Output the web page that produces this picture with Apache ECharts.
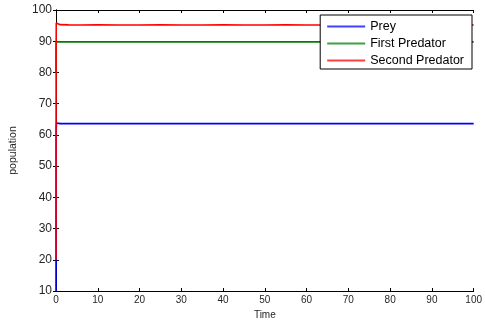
<!DOCTYPE html>
<html>
<head>
<meta charset="utf-8">
<script src="https://cdn.jsdelivr.net/npm/echarts@6/dist/echarts.min.js"></script>
<style>
  html, body { margin: 0; padding: 0; background: #fff; }
  #chart { width: 485px; height: 325px; }
</style>
</head>
<body>
<div id="chart"></div>
<script>
// time samples and population values
const time = [0, 0.01, 0.03, 0.06, 0.12, 0.3, 1, 3, 6, 10, 15, 20, 25, 30, 35, 40, 45, 50, 55, 60, 65, 70, 75, 80, 85, 90, 95, 100];
const prey = [10, 30, 52, 62, 63.8, 63.7, 63.6, 63.6, 63.65, 63.6, 63.6, 63.65, 63.6, 63.6, 63.6, 63.65, 63.6, 63.6, 63.6, 63.65, 63.6, 63.6, 63.6, 63.65, 63.6, 63.6, 63.6, 63.6];
const firstPredator = [80, 85, 88.5, 89.8, 90.0, 89.9, 89.8, 89.8, 89.8, 89.85, 89.8, 89.8, 89.8, 89.85, 89.8, 89.8, 89.8, 89.85, 89.8, 89.8, 89.8, 89.85, 89.8, 89.8, 89.8, 89.85, 89.8, 89.8];
const secondPredator = [20, 60, 88, 95.8, 96.2, 95.6, 95.3, 95.25, 95.2, 95.25, 95.2, 95.2, 95.25, 95.2, 95.2, 95.25, 95.2, 95.2, 95.25, 95.2, 95.2, 95.25, 95.2, 95.2, 95.25, 95.2, 95.2, 95.2];

const seriesNames = ["Prey", "First Predator", "Second Predator"];
const seriesColors = ["#0000ff", "#008000", "#ff0000"];
const seriesData = [prey, firstPredator, secondPredator];

const font = "Liberation Sans, Arial, sans-serif";
const chart = echarts.init(document.getElementById("chart"));

const boxAxis = {
  min: 0, max: 100, interval: 10,
  axisLine: { show: true, lineStyle: { color: "#000", width: 1 } },
  axisTick: { show: true, inside: true, length: 3, lineStyle: { color: "#000" } },
  axisLabel: { show: false },
  splitLine: { show: false },
};

chart.setOption({
  animation: false,
  backgroundColor: "#fff",
  grid: { left: 53, right: 8, top: 10, bottom: 28 },
  legend: {
    orient: "vertical",
    right: 13, top: 15,
    padding: [5, 8, 2, 7],
    itemGap: 4,
    itemWidth: 38, itemHeight: 2,
    icon: "rect",
    backgroundColor: "#fff",
    borderColor: "#000", borderWidth: 1,
    textStyle: { fontFamily: font, fontSize: 12.5, color: "#000" },
    data: seriesNames.map((name, i) => ({
      name,
      itemStyle: { color: seriesColors[i], borderWidth: 0, opacity: 0.75 },
    })),
  },
  xAxis: [
    {
      type: "value", position: "bottom",
      min: 0, max: 100, interval: 10,
      name: "Time", nameLocation: "middle", nameGap: 19,
      nameTextStyle: { fontFamily: font, fontSize: 10, color: "#262626" },
      axisLine: { show: true, lineStyle: { color: "#000", width: 1 } },
      axisTick: { show: true, inside: true, length: 3, lineStyle: { color: "#000" } },
      axisLabel: { fontFamily: font, fontSize: 10, color: "#262626", margin: 4 },
      splitLine: { show: false },
    },
    Object.assign({ type: "value", position: "top" }, boxAxis),
  ],
  yAxis: [
    {
      type: "value", position: "left",
      min: 10, max: 100, interval: 10,
      name: "population", nameLocation: "middle", nameGap: 37,
      nameTextStyle: { fontFamily: font, fontSize: 10.5, color: "#262626" },
      axisLine: { show: true, lineStyle: { color: "#000", width: 1 } },
      axisTick: { show: true, inside: true, length: 3, lineStyle: { color: "#000" } },
      axisLabel: { fontFamily: font, fontSize: 12, color: "#262626", margin: 4 },
      splitLine: { show: false },
    },
    Object.assign({ type: "value", position: "right" }, boxAxis, { min: 10, max: 100 }),
  ],
  series: seriesNames.map((name, i) => ({
    name,
    type: "line",
    xAxisIndex: 0, yAxisIndex: 0,
    showSymbol: false,
    itemStyle: { color: seriesColors[i] },
    lineStyle: { width: 1.6, color: seriesColors[i] },
    data: time.map((t, j) => [t, seriesData[i][j]]),
  })),
});
</script>
</body>
</html>
